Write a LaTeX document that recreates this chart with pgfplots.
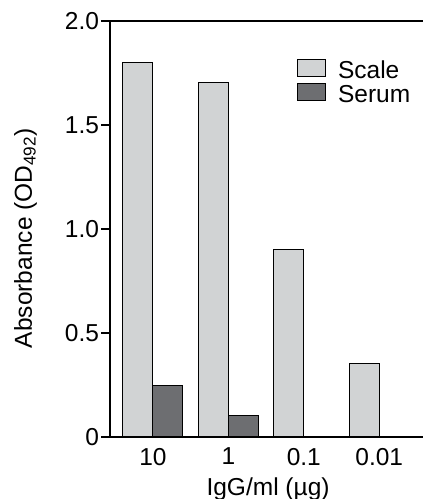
\documentclass[border=0pt]{standalone}
\usepackage{pgfplots}
\pgfplotsset{compat=1.18}
\usepackage{fontspec}
\setmainfont{Liberation Sans}
\definecolor{scalegray}{HTML}{D1D3D4}
\definecolor{serumgray}{HTML}{6D6E71}
\newcommand{\bigf}{\fontsize{24.5}{29}\selectfont}
\begin{document}
\begin{tikzpicture}
\path[use as bounding box] (-110pt,-62pt) rectangle (313pt,437pt);
\begin{axis}[
  at={(0,0)}, anchor=south west,
  scale only axis,
  width=313pt, height=416pt,
  xmin=-0.57, xmax=3.58,
  ymin=0, ymax=2,
  axis on top=true,
  axis x line=box, axis y line=left,
  axis line style={-, line width=1.1pt},
  ybar=0pt, bar width=30pt,
  xtick={0,1,2,3},
  xticklabels={10,1,0.1,0.01},
  xtick style={draw=none},
  ytick={0,0.5,1,1.5,2},
  yticklabels={0,0.5,1.0,1.5,2.0},
  ytick style={line width=1.1pt, black},
  tick align=outside,
  major tick length=8.5pt,
  /pgf/number format/assume math mode=true,
  tick label style={font=\bigf},
  xticklabel style={yshift=1pt},
  yticklabel style={xshift=1pt},
  ylabel={Absorbance (OD\textsubscript{492})},
  xlabel={IgG/ml (\textmu g)},
  label style={font=\bigf},
  ylabel style={at={(axis description cs:-0.27,0.478)}, anchor=center, rotate=0},
  xlabel style={at={(axis description cs:0.505,-0.125)}, anchor=center},
  legend style={at={(axis description cs:0.597,0.91)}, anchor=north west, draw=none, fill=none, inner sep=0pt, font=\bigf, row sep=0pt,
    nodes={inner sep=0pt, text height=19pt, text depth=5pt}},
  legend cell align=left,
  legend image code/.code={\draw[#1, line width=1pt] (0pt,-5pt) rectangle (28pt,12pt); \path (40pt,0pt);},
  clip=false,
]
\addplot[fill=scalegray, draw=black, line width=1pt] coordinates {(0,1.80) (1,1.705) (2,0.90) (3,0.355)};
\addplot[fill=serumgray, draw=black, line width=1pt] coordinates {(0,0.25) (1,0.105)};
\legend{Scale, Serum}
\end{axis}
\end{tikzpicture}
\end{document}
